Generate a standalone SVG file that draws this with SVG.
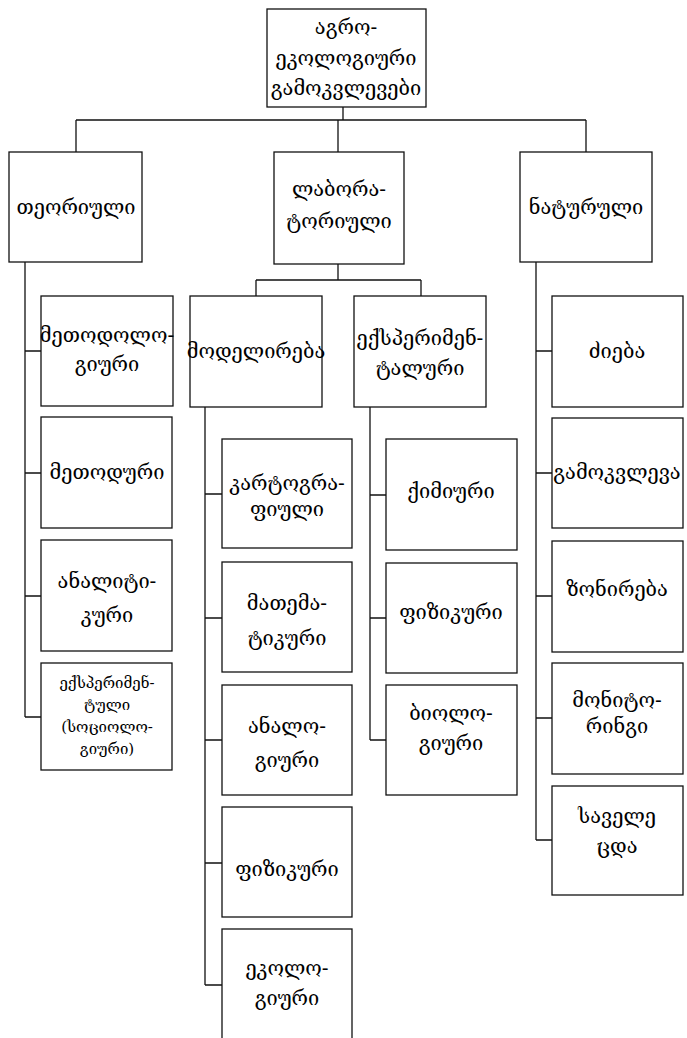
<svg xmlns="http://www.w3.org/2000/svg" width="687" height="1038" viewBox="0 0 687 1038">
<style>
.box{fill:#fff;stroke:#111;stroke-width:1.3}
.ln{stroke:#111;stroke-width:1.3;fill:none}
text{font-family:"DejaVu Serif","DejaVu Sans",serif;font-size:20px;fill:#000;text-anchor:middle}
.sm{font-size:15px}
</style>
<rect width="687" height="1038" fill="#fff"/>
<g id="connectors">
<path class="ln" d="M343 107V120M76 120H586M76 120V152M338 120V152M586 120V152"/>
<path class="ln" d="M25 262V717M25 351H41M25 473H41M25 596H41M25 717H41"/>
<path class="ln" d="M338 264V280M256 280H421M256 280V296M421 280V296"/>
<path class="ln" d="M205 407V985M205 494H222M205 618H222M205 740H222M205 863H222M205 985H222"/>
<path class="ln" d="M370 407V740M370 495H386M370 618H386M370 740H386"/>
<path class="ln" d="M536 262V840M536 351H552M536 473H552M536 596H552M536 718H552M536 840H552"/>
</g>
<g id="n-root"><rect class="box" x="267" y="9" width="159" height="98"/><text x="346" y="34">აგრო-</text><text x="346" y="65">ეკოლოგიური</text><text x="346" y="95">გამოკვლევები</text></g>
<g id="n-theor"><rect class="box" x="9" y="152" width="133" height="110"/><text x="76" y="214">თეორიული</text></g>
<g id="n-lab"><rect class="box" x="274" y="152" width="130" height="112"/><text x="339" y="196">ლაბორა-</text><text x="339" y="228">ტორიული</text></g>
<g id="n-nat"><rect class="box" x="520" y="152" width="132" height="110"/><text x="586" y="214">ნატურული</text></g>
<g id="n-t1"><rect class="box" x="41" y="296" width="132" height="110"/><text x="107" y="342">მეთოდოლო-</text><text x="107" y="371">გიური</text></g>
<g id="n-t2"><rect class="box" x="41" y="417" width="131" height="111"/><text x="107" y="479">მეთოდური</text></g>
<g id="n-t3"><rect class="box" x="41" y="540" width="131" height="111"/><text x="107" y="588">ანალიტი-</text><text x="107" y="622">კური</text></g>
<g id="n-t4"><rect class="box" x="41" y="663" width="131" height="107"/><text class="sm" x="107" y="688">ექსპერიმენ-</text><text class="sm" x="107" y="710">ტული</text><text class="sm" x="107" y="732">(სოციოლო-</text><text class="sm" x="107" y="754">გიური)</text></g>
<g id="n-model"><rect class="box" x="190" y="296" width="132" height="111"/><text x="256" y="358">მოდელირება</text></g>
<g id="n-exp"><rect class="box" x="354" y="296" width="132" height="111"/><text x="420" y="345">ექსპერიმენ-</text><text x="420" y="375">ტალური</text></g>
<g id="n-m1"><rect class="box" x="222" y="439" width="130" height="109"/><text x="287" y="490">კარტოგრა-</text><text x="287" y="516">ფიული</text></g>
<g id="n-m2"><rect class="box" x="222" y="562" width="130" height="110"/><text x="287" y="610">მათემა-</text><text x="287" y="645">ტიკური</text></g>
<g id="n-m3"><rect class="box" x="222" y="685" width="130" height="110"/><text x="287" y="733">ანალო-</text><text x="287" y="767">გიური</text></g>
<g id="n-m4"><rect class="box" x="222" y="807" width="130" height="110"/><text x="287" y="876">ფიზიკური</text></g>
<g id="n-m5"><rect class="box" x="222" y="929" width="130" height="115"/><text x="287" y="975">ეკოლო-</text><text x="287" y="1005">გიური</text></g>
<g id="n-e1"><rect class="box" x="386" y="439" width="131" height="111"/><text x="451" y="498">ქიმიური</text></g>
<g id="n-e2"><rect class="box" x="386" y="563" width="131" height="110"/><text x="451" y="619">ფიზიკური</text></g>
<g id="n-e3"><rect class="box" x="386" y="685" width="131" height="110"/><text x="451" y="720">ბიოლო-</text><text x="451" y="750">გიური</text></g>
<g id="n-r1"><rect class="box" x="552" y="296" width="131" height="111"/><text x="617" y="358">ძიება</text></g>
<g id="n-r2"><rect class="box" x="552" y="418" width="131" height="110"/><text x="617" y="479">გამოკვლევა</text></g>
<g id="n-r3"><rect class="box" x="552" y="541" width="131" height="111"/><text x="617" y="596">ზონირება</text></g>
<g id="n-r4"><rect class="box" x="552" y="663" width="131" height="111"/><text x="617" y="707">მონიტო-</text><text x="617" y="733">რინგი</text></g>
<g id="n-r5"><rect class="box" x="552" y="786" width="131" height="109"/><text x="617" y="823">საველე</text><text x="617" y="853">ცდა</text></g>
</svg>
